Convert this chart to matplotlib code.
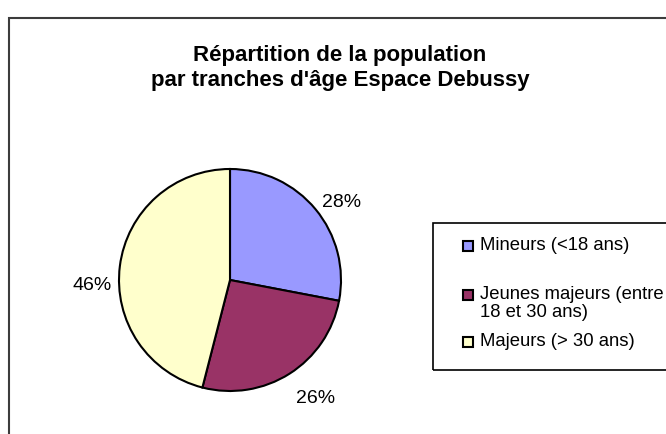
import numpy as np
import matplotlib
matplotlib.use("Agg")
import matplotlib.pyplot as plt
from matplotlib.patches import Rectangle

plt.rcParams['font.family'] = ['Liberation Sans', 'DejaVu Sans']

# données
categories = ["Mineurs (<18 ans)", "Jeunes majeurs (entre\n18 et 30 ans)", "Majeurs (> 30 ans)"]
parts = [28, 26, 46]
couleurs = ["#9999FF", "#993366", "#FFFFCC"]
titre = "Répartition de la population\npar tranches d'âge Espace Debussy"

W, H = 666, 435
fig = plt.figure(figsize=(W / 100, H / 100), dpi=100)

# cadre du graphique (déborde à droite et en bas)
fig.add_artist(Rectangle((9 / W, -0.1), 1.2, 1 - 19 / H + 0.1, transform=fig.transFigure,
                         fill=False, edgecolor="#3c3c3c", linewidth=1.5))

fig.text(340 / W, 1 - 68 / H, titre, ha="center", va="center", fontsize=16,
         fontweight="bold", linespacing=1.25)

# camembert : centre (230, 281), rayon 111 px
cx, cy, r = 230, 281, 111
ax = fig.add_axes([(cx - r) / W, (H - cy - r) / H, 2 * r / W, 2 * r / H])
wedges, _ = ax.pie(parts, colors=couleurs, startangle=90, counterclock=False,
                   wedgeprops=dict(edgecolor="black", linewidth=1.5))
for w in wedges:
    w.set_clip_on(False)
ax.set_xlim(-1, 1)
ax.set_ylim(-1, 1)
ax.set_aspect("equal")
ax.axis("off")

# étiquettes de pourcentage, décalées à la manière d'Excel
decalages = [(5, -10), (11, 0), (0, -22)]
for w, p, d in zip(wedges, parts, decalages):
    a = np.deg2rad((w.theta1 + w.theta2) / 2)
    ax.annotate("%d%%" % p, xy=(1.25 * np.cos(a), 1.25 * np.sin(a)), xytext=d,
                textcoords="offset pixels", ha="center", va="center", fontsize=14,
                annotation_clip=False)

# légende
fig.add_artist(Rectangle((433 / W, 1 - 371 / H), 0.5, 147 / H, transform=fig.transFigure,
                         fill=False, edgecolor="black", linewidth=1.2))
lignes_y = [247, 296, 343]
for cat, col, y in zip(categories, couleurs, lignes_y):
    fig.add_artist(Rectangle((463 / W, 1 - (y + 5) / H), 10 / W, 10 / H,
                             transform=fig.transFigure, facecolor=col,
                             edgecolor="black", linewidth=1.5))
    fig.text(480 / W, 1 - (y - 10) / H, cat, ha="left", va="top", fontsize=13.3,
             linespacing=1.08)

fig.savefig("out.png", dpi=100)
